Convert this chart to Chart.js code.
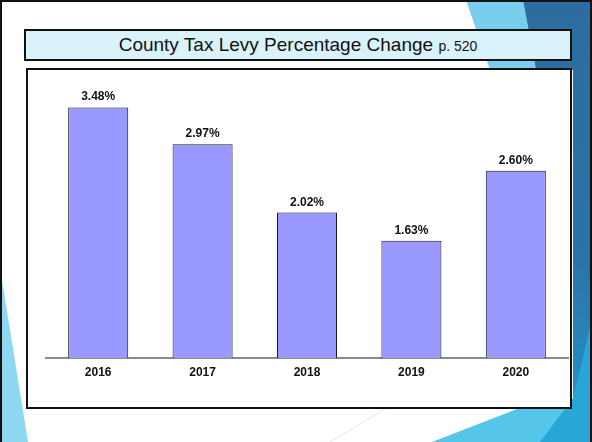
<!DOCTYPE html>
<html>
<head>
<meta charset="utf-8">
<script src="https://cdn.jsdelivr.net/npm/chart.js@4"></script>
<style>
    html, body { margin: 0; padding: 0; background: #fff; }
    #slide {
        position: relative;
        width: 592px;
        height: 442px;
        overflow: hidden;
        background: #fff;
    }
    #deco { position: absolute; left: 0; top: 0; }
    #frame {
        position: absolute; left: 0; top: 0;
        width: 592px; height: 442px;
        box-sizing: border-box;
        border: 2px solid #111;
        border-bottom: none;
    }
    #title-box {
        position: absolute;
        left: 24px; top: 29px;
        width: 548px; height: 32px;
        box-sizing: border-box;
        border: 2px solid #111;
        background: #daf3fa;
        text-align: center;
        font-family: 'Liberation Sans', Arial, sans-serif;
        font-size: 19px;
        line-height: 28px;
        color: #111;
    }
    #title-box small { font-size: 14px; }
    #chart-box {
        position: absolute;
        left: 26px; top: 68px;
        width: 546px; height: 341px;
        box-sizing: border-box;
        border: 2px solid #111;
        background: #fff;
    }
    #levy-chart { position: absolute; left: 0; top: 0; }
</style>
</head>
<body>
<div id="slide">
    <svg id="deco" width="592" height="442">
        <defs>
            <linearGradient id="band" x1="0" y1="0" x2="0" y2="1">
                <stop offset="0" stop-color="#2d6c9e"/>
                <stop offset="0.6" stop-color="#2b74a8"/>
                <stop offset="1" stop-color="#1f9ad2"/>
            </linearGradient>
        </defs>
        <polygon points="466,0 523,0 536,70 490,70" fill="#79cdee"/>
        <polygon points="523,0 592,0 592,442 573,442 573,70 536,70" fill="url(#band)"/>
        <polygon points="432,442 517,409 573,409 573,442" fill="#55c6ea"/>
        <polygon points="540,442 573,398 592,320 592,442" fill="#29a6d8"/>
        <line x1="330" y1="442" x2="385" y2="409" stroke="#d4ecf6" stroke-width="1"/>
        <polygon points="2,280 2,442 28,442" fill="#8ed8f1"/>
    </svg>
    <div id="frame"></div>
    <div id="title-box">County Tax Levy Percentage Change <small>p. 520</small></div>
    <div id="chart-box">
        <canvas id="levy-chart" width="542" height="337"></canvas>
    </div>
</div>

<script>
// Levy change by year
const YEARS = ['2016', '2017', '2018', '2019', '2020'];
const LEVY_CHANGE = [3.48, 2.97, 2.02, 1.63, 2.60];
const Y_MAX = 4;

const LABEL_FONT = "bold 12px 'Liberation Sans', Arial, sans-serif";

// Writes the percentage above each bar
const barValueLabels = {
    id: 'barValueLabels',
    afterDatasetsDraw(chart) {
        const ctx = chart.ctx;
        const meta = chart.getDatasetMeta(0);
        const values = chart.data.datasets[0].data;
        ctx.save();
        ctx.font = LABEL_FONT;
        ctx.fillStyle = '#111';
        ctx.textAlign = 'center';
        ctx.textBaseline = 'alphabetic';
        meta.data.forEach((bar, i) => {
            ctx.fillText(values[i].toFixed(2) + '%', bar.x, bar.y - 7);
        });
        ctx.restore();
    }
};

const ctx = document.getElementById('levy-chart').getContext('2d');
new Chart(ctx, {
    type: 'bar',
    data: {
        labels: YEARS,
        datasets: [{
            data: LEVY_CHANGE,
            backgroundColor: '#9999ff',
            borderColor: '#1a1a1a',
            borderWidth: 1,
            categoryPercentage: 1,
            barPercentage: 0.575,
        }]
    },
    options: {
        responsive: false,
        animation: false,
        devicePixelRatio: 1,
        layout: {
            padding: { left: 18, right: 2, top: 0, bottom: 0 }
        },
        plugins: {
            legend: { display: false },
            tooltip: { enabled: false }
        },
        scales: {
            x: {
                grid: { display: false, drawTicks: false },
                border: { display: true, color: '#8a8a8a', width: 2 },
                ticks: {
                    color: '#111',
                    padding: 7,
                    font: { family: "'Liberation Sans', Arial, sans-serif", size: 12, weight: 'bold' }
                },
                afterFit(scale) { scale.height = 49; }
            },
            y: {
                display: false,
                min: 0,
                max: Y_MAX
            }
        }
    },
    plugins: [barValueLabels]
});
</script>
</body>
</html>
